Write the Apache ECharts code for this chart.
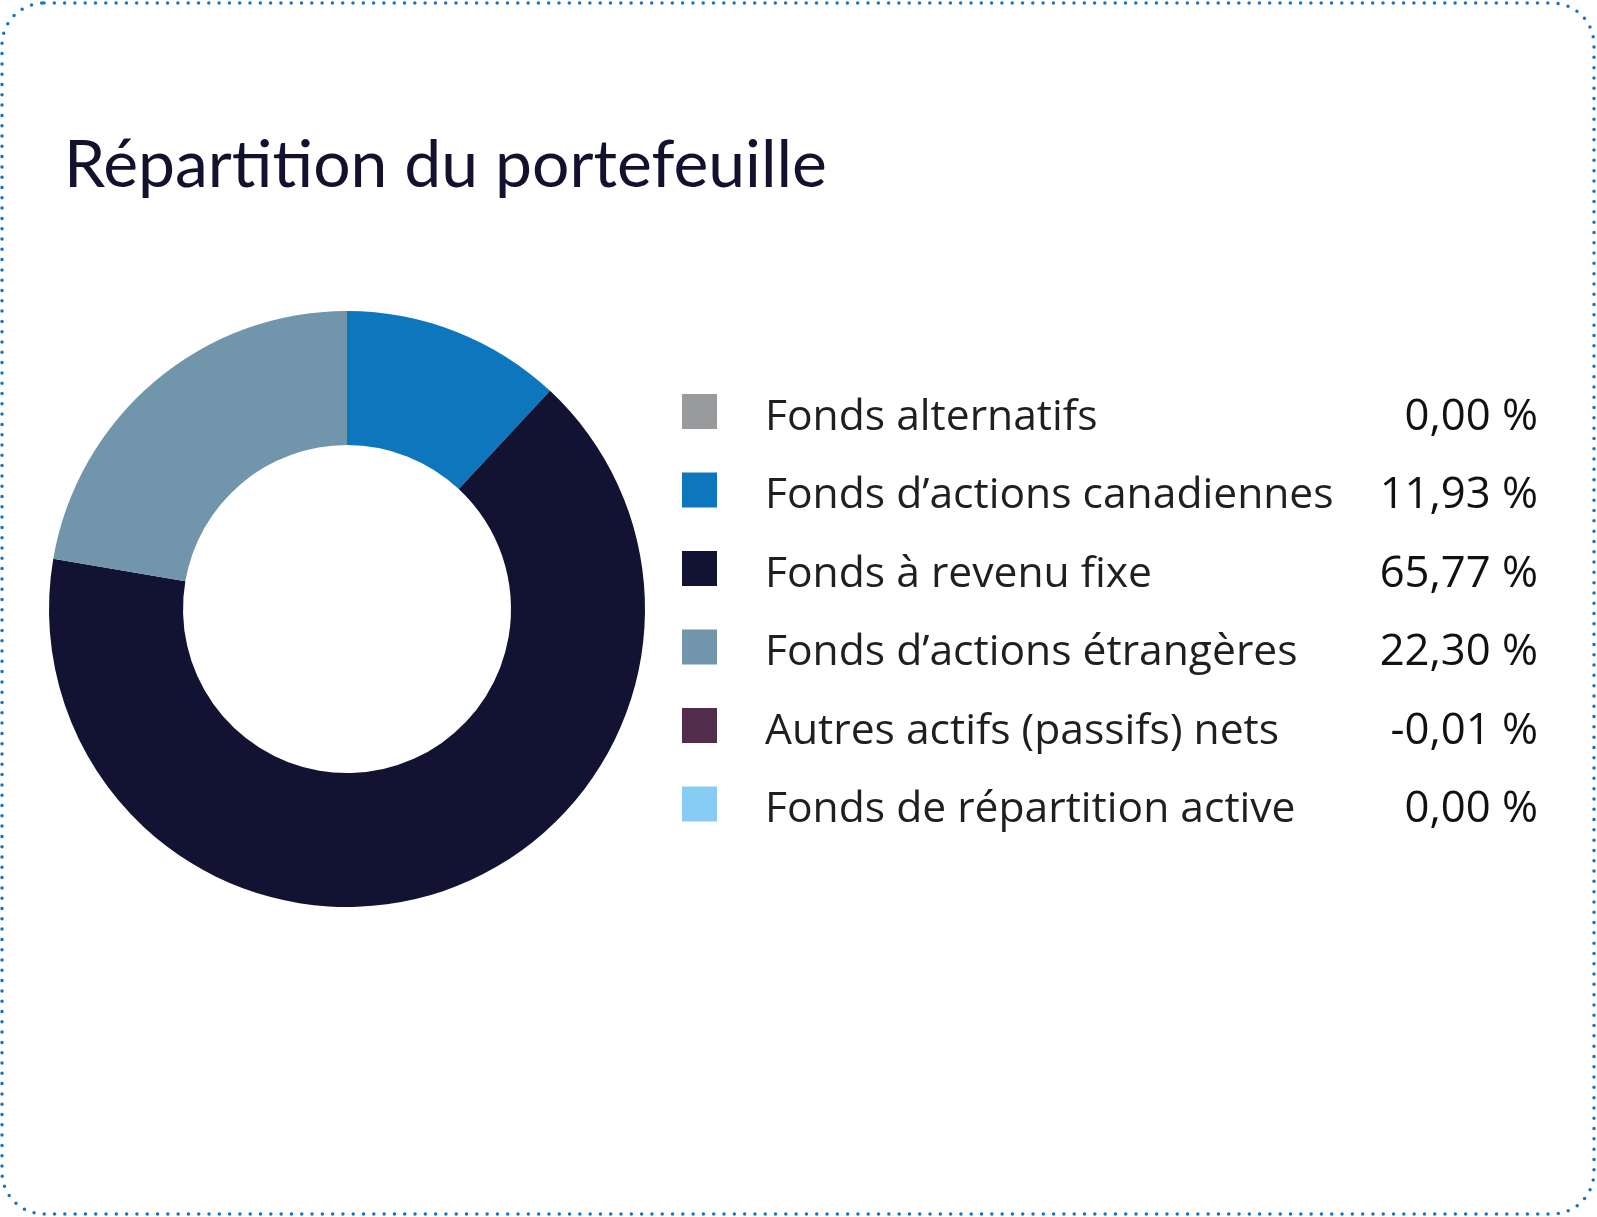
<!DOCTYPE html>
<html>
<head>
<meta charset="utf-8">
<title>Répartition du portefeuille</title>
<script src="https://cdn.jsdelivr.net/npm/echarts@6/dist/echarts.min.js"></script>
<style>
  html, body { margin: 0; padding: 0; background: #ffffff; }
  #pie { width: 1597px; height: 1217px; }
</style>
</head>
<body>
<div id="pie"></div>
<script>
var noms = ["Fonds alternatifs", "Fonds d’actions canadiennes", "Fonds à revenu fixe",
            "Fonds d’actions étrangères", "Autres actifs (passifs) nets", "Fonds de répartition active"];
var valeurs = [0.00, 11.93, 65.77, 22.30, -0.01, 0.00];
var couleurs = ["#999a9c", "#0e76bd", "#121233", "#7196ab", "#522d4b", "#87ccf2"];
var titre = "Répartition du portefeuille";

// valeur au format français : 11,93 %
function pct(v) {
	return v.toFixed(2).replace('.', ',') + ' %';
}

onload = function start() {
	var donnees = [];
	var legende = [];
	for (var i = 0; i < noms.length; i++) {
		donnees.push({ name: noms[i], value: valeurs[i], itemStyle: { color: couleurs[i] } });
		legende.push({ name: noms[i], itemStyle: { color: couleurs[i] } });
	}

	var option = {
		animation: false,
		title: {
			text: titre,
			left: 59,
			top: 128,
			textStyle: {
				fontFamily: 'Lato',
				fontWeight: 'normal',
				fontSize: 66,
				color: '#12122f'
			}
		},
		legend: {
			orient: 'vertical',
			left: 677,
			top: 389,
			itemWidth: 35,
			itemHeight: 35,
			itemGap: 33,
			icon: 'rect',
			selectedMode: false,
			data: legende,
			formatter: function (name) {
				return '{n|' + name + '}{v|' + pct(valeurs[noms.indexOf(name)]) + '}';
			},
			textStyle: {
				fontFamily: 'Open Sans',
				fontSize: 42.6,
				color: '#1f1f1f',
				rich: {
					n: { fontFamily: 'Open Sans', fontSize: 42.6, color: '#1f1f1f', width: 569, padding: [12, 0, 0, 43] },
					v: { fontFamily: 'Open Sans', fontSize: 43.6, color: '#111111', width: 204, align: 'right', padding: [12, 0, 0, 0] }
				}
			}
		},
		graphic: [{
			type: 'rect',
			silent: true,
			shape: { x: 2, y: 3, width: 1592, height: 1211, r: 42 },
			style: { fill: null, stroke: '#1a73c1', lineWidth: 3.5, lineDash: [0, 10.3], lineCap: 'round' }
		}],
		series: [{
			type: 'pie',
			center: [347, 609],
			radius: [164, 298],
			startAngle: 90,
			clockwise: true,
			silent: true,
			label: { show: false },
			labelLine: { show: false },
			emphasis: { disabled: true },
			data: donnees
		}]
	};

	var monGraphique = echarts.init(document.getElementById('pie'));
	monGraphique.setOption(option);
};
</script>
</body>
</html>
